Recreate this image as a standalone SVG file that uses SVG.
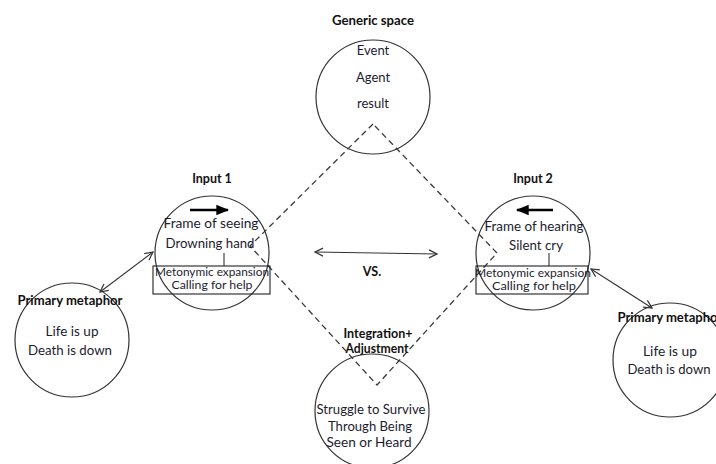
<svg xmlns="http://www.w3.org/2000/svg" width="716" height="464" viewBox="0 0 716 464">
  <style>
    .space { fill: none; stroke: #333; stroke-width: 1.2; }
    .box { fill: none; stroke: #222; stroke-width: 1.1; }
    .title { font-family: Lato, "Liberation Sans", sans-serif; font-weight: bold; font-size: 12.5px; fill: #111; text-anchor: middle; }
    .body { font-family: Lato, "Liberation Sans", sans-serif; font-size: 13px; fill: #1c1c30; text-anchor: middle; }
    .small { font-size: 11.5px; }
    .dash { fill: none; stroke: #3a3a3a; stroke-width: 1.3; stroke-dasharray: 6 4; }
    .link { fill: none; stroke: #333; stroke-width: 1.1; }
    .dir { fill: none; stroke: #000; stroke-width: 2.6; }
  </style>
  <defs>
    <marker id="open" viewBox="0 0 10 10" refX="9" refY="5" markerWidth="10" markerHeight="10" markerUnits="userSpaceOnUse" orient="auto-start-reverse">
      <path d="M1,1 L9,5 L1,9" fill="none" stroke="#333" stroke-width="1.2"/>
    </marker>
    <marker id="solid" viewBox="0 0 10 10" refX="9" refY="5" markerWidth="5" markerHeight="5" orient="auto">
      <path d="M0,1 L10,5 L0,9 Z" fill="#000"/>
    </marker>
  </defs>

  <!-- dashed blending diamond, links between spaces -->
  <g id="connectors">
    <path class="dash" d="M373,124 L250,246 L377,385 L497,253 Z"/>
    <line class="link" x1="153" y1="252" x2="100" y2="292" marker-start="url(#open)" marker-end="url(#open)"/>
    <line class="link" x1="591" y1="269" x2="652" y2="308" marker-start="url(#open)" marker-end="url(#open)"/>
    <line class="link" x1="315" y1="252" x2="437" y2="254" marker-start="url(#open)" marker-end="url(#open)"/>
    <text class="title" x="372" y="276">VS.</text>
  </g>

  <g id="generic-space">
    <text class="title" x="373" y="25" textLength="82" lengthAdjust="spacingAndGlyphs">Generic space</text>
    <circle class="space" cx="373" cy="97" r="57"/>
    <text class="body" x="373" y="55">Event</text>
    <text class="body" x="373" y="82">Agent</text>
    <text class="body" x="373" y="108">result</text>
  </g>

  <g id="input-1">
    <text class="title" x="212" y="183">Input 1</text>
    <circle class="space" cx="212" cy="253" r="57"/>
    <line class="dir" x1="190" y1="210" x2="228" y2="210" marker-end="url(#solid)"/>
    <text class="body" x="211" y="228" textLength="95" lengthAdjust="spacingAndGlyphs">Frame of seeing</text>
    <text class="body" x="210" y="248" textLength="89" lengthAdjust="spacingAndGlyphs">Drowning hand</text>
    <line class="link" x1="224" y1="253" x2="224" y2="266"/>
    <rect class="box" x="153" y="266" width="117" height="28"/>
    <text class="body small" x="212" y="276" textLength="114" lengthAdjust="spacingAndGlyphs">Metonymic expansion</text>
    <text class="body small" x="212" y="289" textLength="81" lengthAdjust="spacingAndGlyphs">Calling for help</text>
  </g>

  <g id="input-2">
    <text class="title" x="533" y="183">Input 2</text>
    <circle class="space" cx="533" cy="253" r="57"/>
    <line class="dir" x1="553" y1="210" x2="517" y2="210" marker-end="url(#solid)"/>
    <text class="body" x="534" y="231" textLength="99" lengthAdjust="spacingAndGlyphs">Frame of hearing</text>
    <text class="body" x="536" y="250" textLength="54" lengthAdjust="spacingAndGlyphs">Silent cry</text>
    <line class="link" x1="549" y1="253" x2="549" y2="266"/>
    <rect class="box" x="476" y="266" width="112" height="28"/>
    <text class="body small" x="533" y="277" textLength="116" lengthAdjust="spacingAndGlyphs">Metonymic expansion</text>
    <text class="body small" x="534" y="290" textLength="84" lengthAdjust="spacingAndGlyphs">Calling for help</text>
  </g>

  <g id="blend">
    <circle class="space" cx="372" cy="411" r="57"/>
    <text class="title" x="378" y="338" textLength="69" lengthAdjust="spacingAndGlyphs">Integration+</text>
    <text class="title" x="377" y="353" textLength="63" lengthAdjust="spacingAndGlyphs">Adjustment</text>
    <text class="body" x="371" y="414" textLength="109" lengthAdjust="spacingAndGlyphs">Struggle to Survive</text>
    <text class="body" x="370" y="431" textLength="84" lengthAdjust="spacingAndGlyphs">Through Being</text>
    <text class="body" x="369" y="447" textLength="85" lengthAdjust="spacingAndGlyphs">Seen or Heard</text>
  </g>

  <g id="primary-metaphor-left">
    <circle class="space" cx="72" cy="340" r="57"/>
    <text class="title" x="70" y="305" textLength="105" lengthAdjust="spacingAndGlyphs">Primary metaphor</text>
    <text class="body" x="72" y="336" textLength="53" lengthAdjust="spacingAndGlyphs">Life is up</text>
    <text class="body" x="70" y="355" textLength="84" lengthAdjust="spacingAndGlyphs">Death is down</text>
  </g>

  <g id="primary-metaphor-right">
    <circle class="space" cx="670" cy="360" r="57"/>
    <text class="title" x="670" y="322" textLength="105" lengthAdjust="spacingAndGlyphs">Primary metaphor</text>
    <text class="body" x="670" y="356" textLength="54" lengthAdjust="spacingAndGlyphs">Life is up</text>
    <text class="body" x="669" y="374" textLength="83" lengthAdjust="spacingAndGlyphs">Death is down</text>
  </g>
</svg>
